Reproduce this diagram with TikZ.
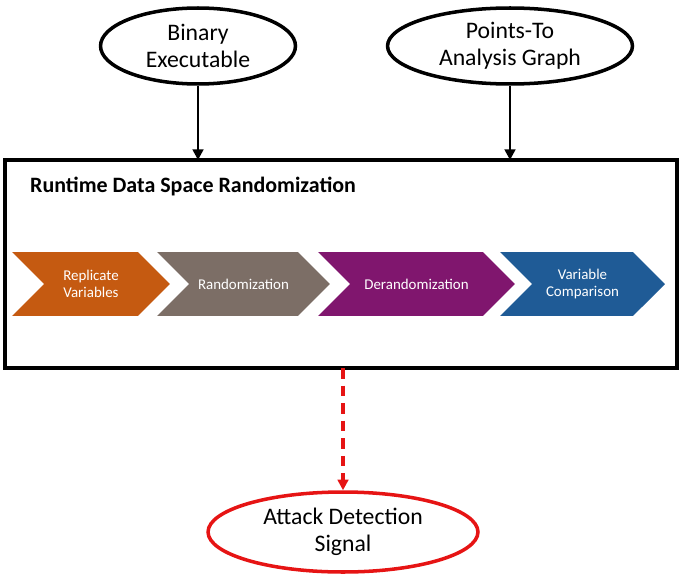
\documentclass[tikz,border=0pt]{standalone}
\usepackage{fontspec}
\setmainfont{Carlito}
\usetikzlibrary{arrows.meta, positioning, shapes.geometric, shapes.symbols}
\definecolor{StepOrange}{RGB}{197,90,17}
\definecolor{StepGray}{RGB}{124,110,102}
\definecolor{StepPurple}{RGB}{128,22,110}
\definecolor{StepBlue}{RGB}{31,91,150}
\definecolor{AlertRed}{RGB}{230,20,20}

\tikzset{
    input/.style={ellipse, draw, line width=2pt, align=center, font=\fontsize{13.5}{15.5}\selectfont, inner sep=0pt},
    stage/.style={signal, signal to=east, signal from=west, draw=none, minimum height=1.28cm, text=white, align=center, font=\fontsize{8.5}{10}\selectfont, inner sep=0pt}
}

\begin{document}
\begin{tikzpicture}[x=0.02cm, y=-0.02cm]
        \useasboundingbox (0,0) rectangle (685,574);
        \node[input, minimum width=3.9cm, minimum height=1.52cm] (bin) at (198,46) {Binary\\Executable};
        \node[input, minimum width=4.9cm, minimum height=1.52cm] (pta) at (510,46) {Points-To\\Analysis Graph};
        \node[draw, line width=2pt, minimum width=13.44cm, minimum height=4.16cm] (rdsr) at (341,264) {};
        \node[anchor=west, font=\fontsize{12.5}{14}\selectfont\bfseries] (title) at (24,187) {Runtime Data Space Randomization};
        \coordinate (bint) at (198,160);
        \coordinate (ptat) at (510,160);
        \draw[-{Triangle[length=6pt,width=6pt]}, line width=1.6pt] (bin) -- (bint);
        \draw[-{Triangle[length=6pt,width=6pt]}, line width=1.6pt] (pta) -- (ptat);
        % four stages
        \node[stage, fill=StepOrange, minimum width=3.16cm] (rep) at (91,284) {Replicate\\Variables};
        \node[stage, fill=StepGray, minimum width=3.46cm] (rand) at (243.5,284) {Randomization};
        \node[stage, fill=StepPurple, minimum width=3.94cm] (derand) at (416.5,284) {Derandomization};
        \node[stage, fill=StepBlue, minimum width=3.3cm] (cmp) at (582.5,284) {Variable\\Comparison};
        \node[input, draw=AlertRed, minimum width=5.4cm, minimum height=1.6cm] (sig) at (343,532) {Attack Detection\\Signal};
        \coordinate (out) at (343,368);
        \draw[-{Triangle[length=6pt,width=6pt]}, line width=1.8pt, AlertRed, dash pattern=on 6pt off 4pt] (out) -- (sig);
    \end{tikzpicture}
\end{document}
